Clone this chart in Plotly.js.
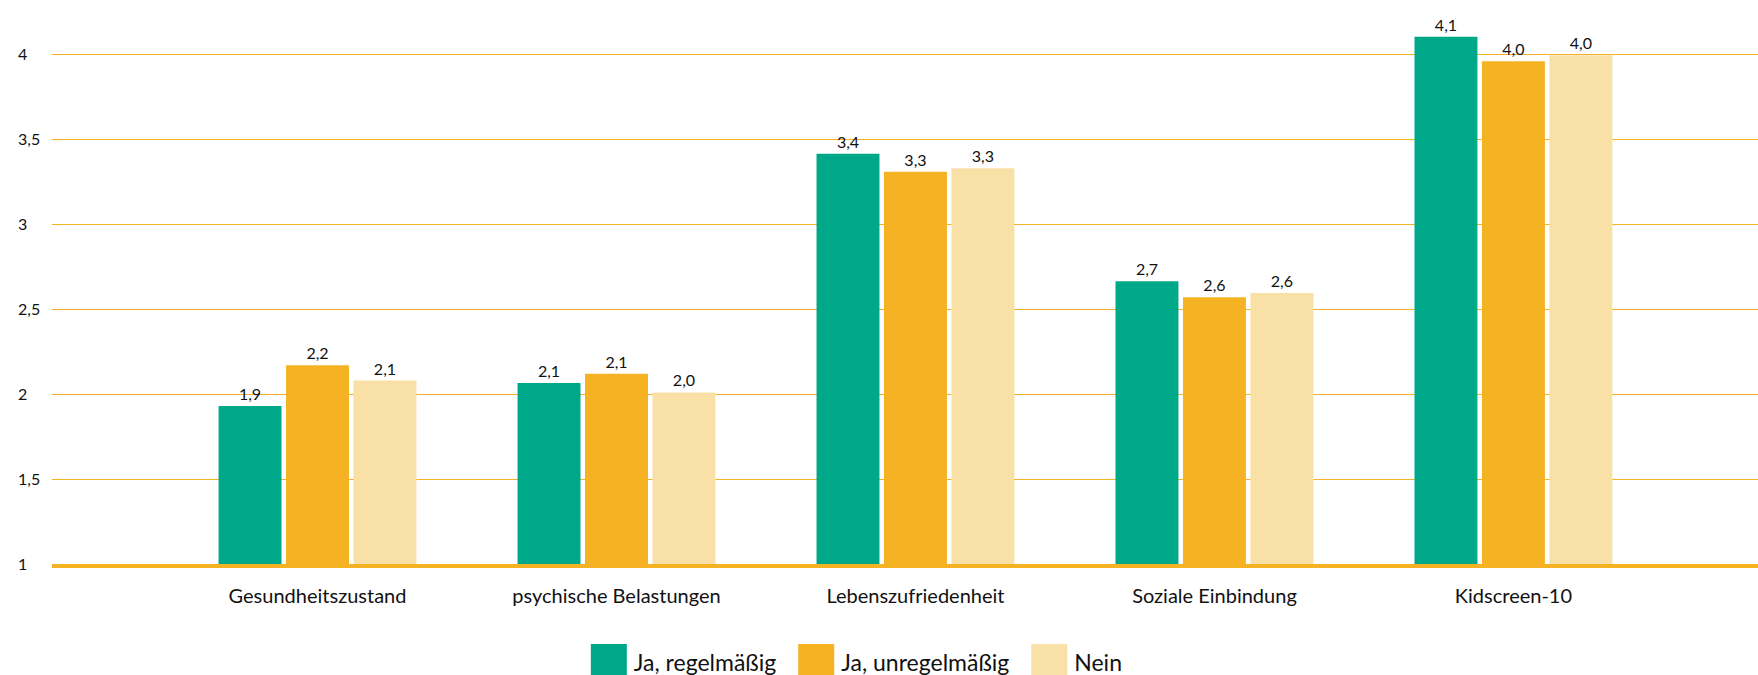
<!DOCTYPE html>
<html>
<head>
<meta charset="utf-8">
<script src="https://cdn.plot.ly/plotly-3.0.1.min.js"></script>
<style>html,body{margin:0;padding:0;background:#fff;}</style>
</head>
<body>
<div id="chart" style="width:1758px;height:675px;"></div>
<script>
var categories = ["Gesundheitszustand", "psychische Belastungen", "Lebenszufriedenheit", "Soziale Einbindung", "Kidscreen-10"];
var seriesNames = ["Ja, regelmäßig", "Ja, unregelmäßig", "Nein"];
var regelmaessig = [1.93, 2.065, 3.415, 2.665, 4.105];
var unregelmaessig = [2.17, 2.12, 3.31, 2.57, 3.96];
var nein = [2.08, 2.01, 3.33, 2.595, 3.995];
var yTicks = [1, 1.5, 2, 2.5, 3, 3.5, 4];

var colors = ["#00a88a", "#f5b222", "#f9e0a6"];
var seriesValues = [regelmaessig, unregelmaessig, nein];

function fmt(v) { return v.toFixed(1).replace('.', ','); }

var traces = seriesValues.map(function (vals, i) {
  return {
    type: 'bar',
    name: seriesNames[i],
    x: categories,
    y: vals.map(function (v) { return v - 1; }),
    base: 1,
    marker: { color: colors[i], line: { width: 0 } },
    text: vals.map(fmt),
    textposition: 'outside',
    textangle: 0,
    constraintext: 'none',
    cliponaxis: false,
    textfont: { family: 'Lato, sans-serif', size: 16, color: '#111111' },
    hoverinfo: 'skip'
  };
});

var layout = {
  width: 1758,
  height: 675,
  margin: { l: 14, r: 0, t: 12, b: 111, pad: 0, autoexpand: false },
  paper_bgcolor: '#ffffff',
  plot_bgcolor: '#ffffff',
  separators: ',.',
  font: { family: 'Lato, sans-serif', size: 16, color: '#111111' },
  barmode: 'group',
  bargap: 0.323,
  bargroupgap: 0.067,
  showlegend: true,
  legend: {
    orientation: 'h',
    x: 0.321, xanchor: 'left',
    y: -0.1775, yanchor: 'middle',
    itemwidth: 50,
    font: { family: 'Lato, sans-serif', size: 23, color: '#111111' },
    traceorder: 'normal',
    itemclick: false
  },
  xaxis: {
    type: 'category',
    domain: [38 / 1744, 1],
    range: [-0.888, 4.818],
    showgrid: false,
    showline: true,
    linecolor: '#f5b222',
    linewidth: 4,
    ticks: '',
    ticklabelstandoff: 11,
    tickfont: { family: 'Lato, sans-serif', size: 20, color: '#111111' },
    fixedrange: true
  },
  yaxis: {
    anchor: 'free',
    position: 0,
    range: [1, 4.25],
    tickvals: yTicks,
    ticktext: yTicks.map(function (v) { return String(v).replace('.', ','); }),
    ticklabelposition: 'inside',
    ticklabeloverflow: 'allow',
    ticks: '',
    showline: false,
    zeroline: false,
    showgrid: true,
    gridcolor: '#f5b222',
    gridwidth: 1,
    tickfont: { family: 'Lato, sans-serif', size: 16, color: '#111111' },
    fixedrange: true
  }
};

Plotly.newPlot('chart', traces, layout, { displayModeBar: false, staticPlot: true }).then(function (gd) {
  gd.querySelectorAll('.legend .legendpoints path').forEach(function (p) {
    p.setAttribute('transform', 'translate(35,0) scale(3)');
  });
});
</script>
</body>
</html>
